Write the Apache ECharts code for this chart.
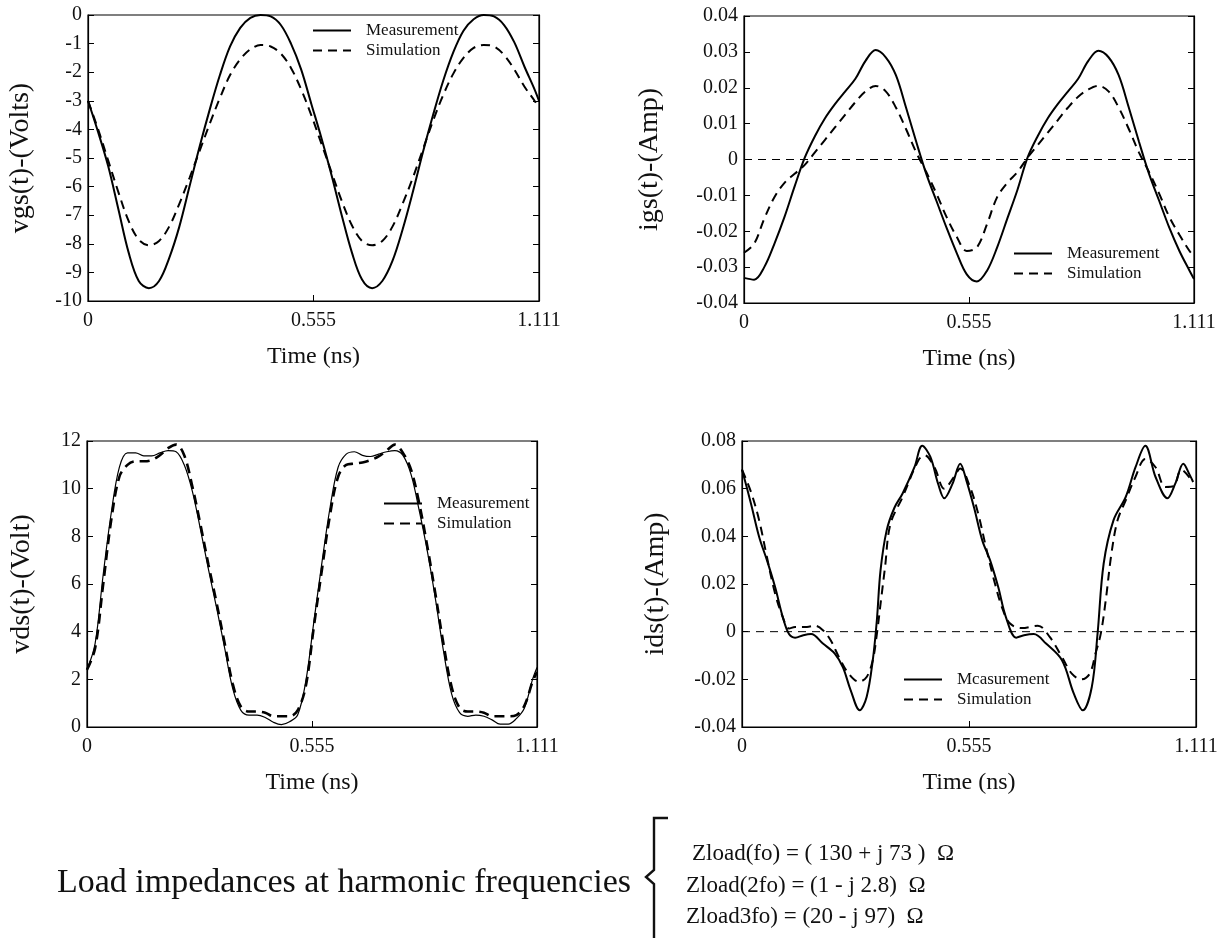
<!DOCTYPE html>
<html><head><meta charset="utf-8">
<script src="https://cdn.jsdelivr.net/npm/echarts@6/dist/echarts.min.js"></script>
<style>html,body{margin:0;padding:0;background:#fff}#chart{width:1224px;height:938px}</style>
</head><body><div id="chart"></div>
<script>
// ---------- DATA ----------
const xTickLabels = ['0', '0.555', '1.111'];
const legendLabels = ['Measurement', 'Simulation'];
const legendLabelsIds = ['Mcasurement', 'Simulation'];

// time grid for top panels (ns)
const timeTop = [0,0.025,0.05,0.075,0.1,0.125,0.15,0.175,0.2,0.225,0.25,0.275,0.3,0.325,0.35,0.375,0.4,0.425,0.45,0.475,0.5,0.525,0.55,0.575,0.6,0.625,0.65,0.675,0.7,0.725,0.75,0.775,0.8,0.825,0.85,0.875,0.9,0.925,0.95,0.975,1.0,1.025,1.05,1.075,1.1,1.111];

const vgsMeas = [-3.0,-4.1,-5.3,-6.8,-8.3,-9.3,-9.55,-9.3,-8.5,-7.4,-6.0,-4.6,-3.3,-2.1,-1.1,-0.45,-0.1,0,-0.05,-0.35,-1.0,-1.9,-3.1,-4.3,-5.6,-7.0,-8.3,-9.25,-9.55,-9.3,-8.6,-7.5,-6.2,-4.8,-3.5,-2.3,-1.3,-0.55,-0.15,0,-0.05,-0.35,-0.95,-1.8,-2.6,-3.0];
const vgsSim = [-3.0,-4.0,-5.1,-6.2,-7.2,-7.85,-8.05,-7.9,-7.4,-6.6,-5.7,-4.75,-3.8,-2.9,-2.1,-1.55,-1.2,-1.05,-1.1,-1.35,-1.85,-2.6,-3.5,-4.5,-5.5,-6.5,-7.35,-7.9,-8.05,-7.9,-7.4,-6.6,-5.7,-4.7,-3.7,-2.8,-2.05,-1.5,-1.15,-1.05,-1.1,-1.4,-1.9,-2.5,-3.0,-3.25];

const igsMeas = [-0.033,-0.0335,-0.030,-0.0235,-0.016,-0.0075,0.0005,0.0065,0.0115,0.0155,0.019,0.0225,0.0275,0.0305,0.0285,0.0235,0.0145,0.005,-0.004,-0.0115,-0.019,-0.026,-0.032,-0.034,-0.031,-0.0245,-0.0165,-0.0085,0.0005,0.0065,0.0115,0.0155,0.019,0.0225,0.0275,0.0303,0.0285,0.0235,0.0145,0.005,-0.004,-0.0115,-0.019,-0.0255,-0.031,-0.0333];
const igsSim = [-0.026,-0.0235,-0.0165,-0.0105,-0.0065,-0.004,-0.0015,0.002,0.0055,0.009,0.0125,0.016,0.019,0.0205,0.019,0.0145,0.0085,0.002,-0.0035,-0.0095,-0.016,-0.0215,-0.0255,-0.0245,-0.018,-0.0105,-0.0065,-0.0035,0.0005,0.004,0.0075,0.011,0.0145,0.0175,0.0195,0.0205,0.019,0.0145,0.0085,0.002,-0.0035,-0.0095,-0.016,-0.021,-0.0255,-0.027];

// time grid for vds (ns)
const timeVds = [0,0.02,0.04,0.06,0.08,0.10,0.12,0.14,0.16,0.18,0.20,0.22,0.24,0.26,0.28,0.30,0.32,0.34,0.36,0.38,0.40,0.42,0.44,0.46,0.48,0.50,0.52,0.54,0.56,0.58,0.60,0.62,0.64,0.66,0.68,0.70,0.72,0.74,0.76,0.78,0.80,0.82,0.84,0.86,0.88,0.90,0.92,0.94,0.96,0.98,1.00,1.02,1.04,1.06,1.08,1.10,1.111];
const vdsMeas = [2.4,3.5,6.4,9.0,10.9,11.5,11.5,11.38,11.38,11.5,11.6,11.55,11.0,9.9,8.3,6.6,5.0,3.3,1.6,0.7,0.5,0.5,0.4,0.2,0.1,0.22,0.5,1.9,4.4,6.9,9.2,10.9,11.45,11.55,11.4,11.35,11.45,11.55,11.6,11.4,10.6,9.1,7.4,5.4,3.2,1.4,0.6,0.45,0.5,0.45,0.3,0.12,0.12,0.35,0.8,2.0,2.5];
const vdsSim = [2.4,3.3,6.0,8.7,10.5,11.0,11.15,11.15,11.2,11.4,11.7,11.85,11.4,10.1,8.5,6.8,5.2,3.5,1.8,0.85,0.65,0.65,0.6,0.45,0.45,0.45,0.7,1.7,4.2,6.6,8.9,10.5,11.0,11.05,11.1,11.2,11.35,11.6,11.85,11.5,10.8,9.4,7.6,5.6,3.5,1.7,0.8,0.65,0.65,0.6,0.45,0.45,0.45,0.5,0.9,1.9,2.3];

// ids read at key points (ns, A)
const idsMeasT = [0,0.022,0.042,0.061,0.081,0.1,0.115,0.13,0.15,0.169,0.198,0.227,0.247,0.266,0.288,0.305,0.32,0.33,0.339,0.354,0.373,0.393,0.422,0.441,0.461,0.48,0.495,0.515,0.534,0.549,0.568,0.588,0.607,0.627,0.646,0.671,0.69,0.714,0.744,0.783,0.812,0.834,0.856,0.87,0.885,0.909,0.939,0.963,0.987,1.012,1.041,1.06,1.08,1.095,1.104];
const idsMeasV = [0.068,0.0537,0.0397,0.030,0.0187,0.006,-0.001,-0.0025,-0.0015,-0.001,-0.005,-0.0092,-0.015,-0.0246,-0.033,-0.0274,-0.012,0.0048,0.0257,0.0425,0.052,0.058,0.069,0.078,0.0733,0.062,0.056,0.062,0.0705,0.0635,0.052,0.0383,0.030,0.0187,0.006,-0.0025,-0.0015,-0.001,-0.005,-0.012,-0.026,-0.033,-0.0232,-0.001,0.0285,0.0467,0.0565,0.069,0.078,0.0649,0.056,0.062,0.0705,0.066,0.0628];
const idsSimT = [0,0.022,0.042,0.061,0.081,0.1,0.115,0.13,0.159,0.178,0.198,0.217,0.237,0.261,0.286,0.305,0.32,0.33,0.34,0.35,0.363,0.393,0.432,0.447,0.471,0.495,0.519,0.534,0.558,0.578,0.597,0.617,0.636,0.656,0.685,0.724,0.753,0.783,0.807,0.831,0.851,0.865,0.878,0.89,0.904,0.919,0.939,0.963,0.987,1.012,1.036,1.056,1.075,1.1];
const idsSimV = [0.068,0.0586,0.0467,0.0313,0.016,0.006,0.0013,0.002,0.002,0.0025,0.0006,-0.0036,-0.0106,-0.0176,-0.021,-0.019,-0.012,-0.001,0.013,0.027,0.045,0.0565,0.072,0.074,0.069,0.060,0.065,0.0685,0.0607,0.0495,0.0355,0.0215,0.0103,0.0034,0.0015,0.0025,-0.0022,-0.0106,-0.0176,-0.020,-0.0176,-0.0092,-0.0008,0.013,0.0327,0.0467,0.0551,0.065,0.0725,0.069,0.0607,0.061,0.068,0.0635];

// zero reference level (dashed) in the current panels
const zeroT = [0, 1.111];
const zeroV = [0, 0];

// ---------- BUILD ----------
const zip = (t, v) => t.map((x, i) => [x, v[i]]);
const FONT = '"Liberation Serif", "DejaVu Serif", serif';
const grids = [
  {left: 88, top: 15, width: 451, height: 286},
  {left: 744, top: 16, width: 450, height: 287},
  {left: 87, top: 441, width: 450, height: 286},
  {left: 742, top: 441, width: 454, height: 286}
];
const yCfg = [
  {min: -10, max: 0, interval: 1, fmt: v => String(v)},
  {min: -0.04, max: 0.04, interval: 0.01, fmt: v => Math.abs(v) < 1e-9 ? '0' : v.toFixed(2)},
  {min: 0, max: 12, interval: 2, fmt: v => String(v)},
  {min: -0.04, max: 0.08, interval: 0.02, fmt: v => Math.abs(v) < 1e-9 ? '0' : v.toFixed(2)}
];
const yTitles = ['vgs(t)-(Volts)', 'igs(t)-(Amp)', 'vds(t)-(Volt)', 'ids(t)-(Amp)'];
const yTitleX = [21, 650, 22, 656];

const xAxis = grids.map((g, i) => ({
  type: 'value', gridIndex: i, min: 0, max: 1.111, interval: 1.111 / 2,
  axisLine: {show: true, onZero: false, lineStyle: {color: '#000', width: 1.2}},
  axisTick: {show: true, inside: true, length: 6, lineStyle: {color: '#000'}},
  axisLabel: {fontFamily: FONT, fontSize: 20, color: '#111', margin: 10,
    formatter: v => xTickLabels[Math.round(v / (1.111 / 2))]},
  splitLine: {show: false}
}));
const yAxis = [];
yCfg.forEach((c, i) => {
  yAxis.push({type: 'value', gridIndex: i, position: 'left', min: c.min, max: c.max, interval: c.interval,
    axisLine: {show: true, onZero: false, lineStyle: {color: '#000', width: 1.2}},
    axisTick: {show: true, inside: true, length: 6, lineStyle: {color: '#000'}},
    axisLabel: {fontFamily: FONT, fontSize: 20, color: '#111', margin: 6, formatter: c.fmt},
    splitLine: {show: false}});
  yAxis.push({type: 'value', gridIndex: i, position: 'right', min: c.min, max: c.max, interval: c.interval,
    axisLine: {show: true, onZero: false, lineStyle: {color: '#000', width: 1.2}},
    axisTick: {show: true, inside: true, length: 6, lineStyle: {color: '#000'}},
    axisLabel: {show: false}, splitLine: {show: false}});
});

const measStyle = {color: '#000', width: 2, type: 'solid'};
const simStyle = {color: '#000', width: 2, type: [9, 6]};

function line(name, gi, data, style, extra) {
  return Object.assign({name, type: 'line', xAxisIndex: gi, yAxisIndex: gi * 2, data,
    symbol: 'none', smooth: 0.35, lineStyle: style, itemStyle: {color: '#000'}}, extra || {});
}
const zeroStyle = {color: '#000', width: 1, type: [8, 6]};
const series = [
  line('igs-zero', 1, zip(zeroT, zeroV), zeroStyle, {smooth: false, silent: true}),
  line('ids-zero', 3, zip(zeroT, zeroV), zeroStyle, {smooth: false, silent: true}),
  line('vgs-m', 0, zip(timeTop, vgsMeas), measStyle),
  line('vgs-s', 0, zip(timeTop, vgsSim), simStyle),
  line('igs-m', 1, zip(timeTop, igsMeas), measStyle),
  line('igs-s', 1, zip(timeTop, igsSim), simStyle),
  line('vds-m', 2, zip(timeVds, vdsMeas), {color: '#000', width: 1.2, type: 'solid'}),
  line('vds-s', 2, zip(timeVds, vdsSim), {color: '#000', width: 2.6, type: [10, 6]}),
  line('ids-m', 3, zip(idsMeasT, idsMeasV), measStyle),
  line('ids-s', 3, zip(idsSimT, idsSimV), simStyle)
];
const legendNames = {
  'vgs-m': legendLabels[0], 'vgs-s': legendLabels[1],
  'igs-m': legendLabels[0], 'igs-s': legendLabels[1],
  'vds-m': legendLabels[0], 'vds-s': legendLabels[1],
  'ids-m': legendLabelsIds[0], 'ids-s': legendLabelsIds[1]
};
const legendPos = [
  {left: 307, top: 17, keys: ['vgs-m', 'vgs-s']},
  {left: 1008, top: 240, keys: ['igs-m', 'igs-s']},
  {left: 378, top: 490, keys: ['vds-m', 'vds-s']},
  {left: 898, top: 666, keys: ['ids-m', 'ids-s']}
];
const legend = legendPos.map(p => ({
  orient: 'vertical', left: p.left, top: p.top, data: p.keys, selectedMode: false,
  itemWidth: 38, itemHeight: 12, itemGap: 3,
  itemStyle: {opacity: 0},
  formatter: n => legendNames[n],
  textStyle: {fontFamily: FONT, fontSize: 17, color: '#111', lineHeight: 17, padding: [0, 0, 0, 10]}
}));

const graphic = [];
grids.forEach((g, i) => {
  graphic.push({type: 'text', x: g.left + g.width / 2, y: g.top + g.height + 56,
    style: {text: 'Time (ns)', fontFamily: FONT, fontSize: 24, fill: '#111', align: 'center', verticalAlign: 'middle'}});
  graphic.push({type: 'text', x: yTitleX[i], y: g.top + g.height / 2, rotation: Math.PI / 2,
    style: {text: yTitles[i], fontFamily: FONT, fontSize: 28, fill: '#111', align: 'center', verticalAlign: 'middle'}});
});
graphic.push({type: 'text', x: 57, y: 883,
  style: {text: 'Load impedances at harmonic frequencies', fontFamily: FONT, fontSize: 34, fill: '#111', align: 'left', verticalAlign: 'middle'}});
graphic.push({type: 'polyline', shape: {points: [[668, 818], [654, 818], [654, 870], [646, 877], [654, 884], [654, 938]]},
  style: {stroke: '#111', lineWidth: 2.4, fill: null}});
const zRows = ['Zload(fo) = ( 130 + j 73 )  \u03A9', 'Zload(2fo) = (1 - j 2.8)  \u03A9', 'Zload3fo) = (20 - j 97)  \u03A9'];
const zX = [692, 686, 686];
const zY = [854, 886, 917];
zRows.forEach((t, i) => graphic.push({type: 'text', x: zX[i], y: zY[i],
  style: {text: t, fontFamily: FONT, fontSize: 23, fill: '#111', align: 'left', verticalAlign: 'middle'}}));

const chart = echarts.init(document.getElementById('chart'));
chart.setOption({
  backgroundColor: '#fff', animation: false,
  grid: grids.map(g => Object.assign({show: true, borderColor: '#000', borderWidth: 1.2, backgroundColor: 'transparent'}, g)),
  xAxis, yAxis, series, legend, graphic
});
</script></body></html>
